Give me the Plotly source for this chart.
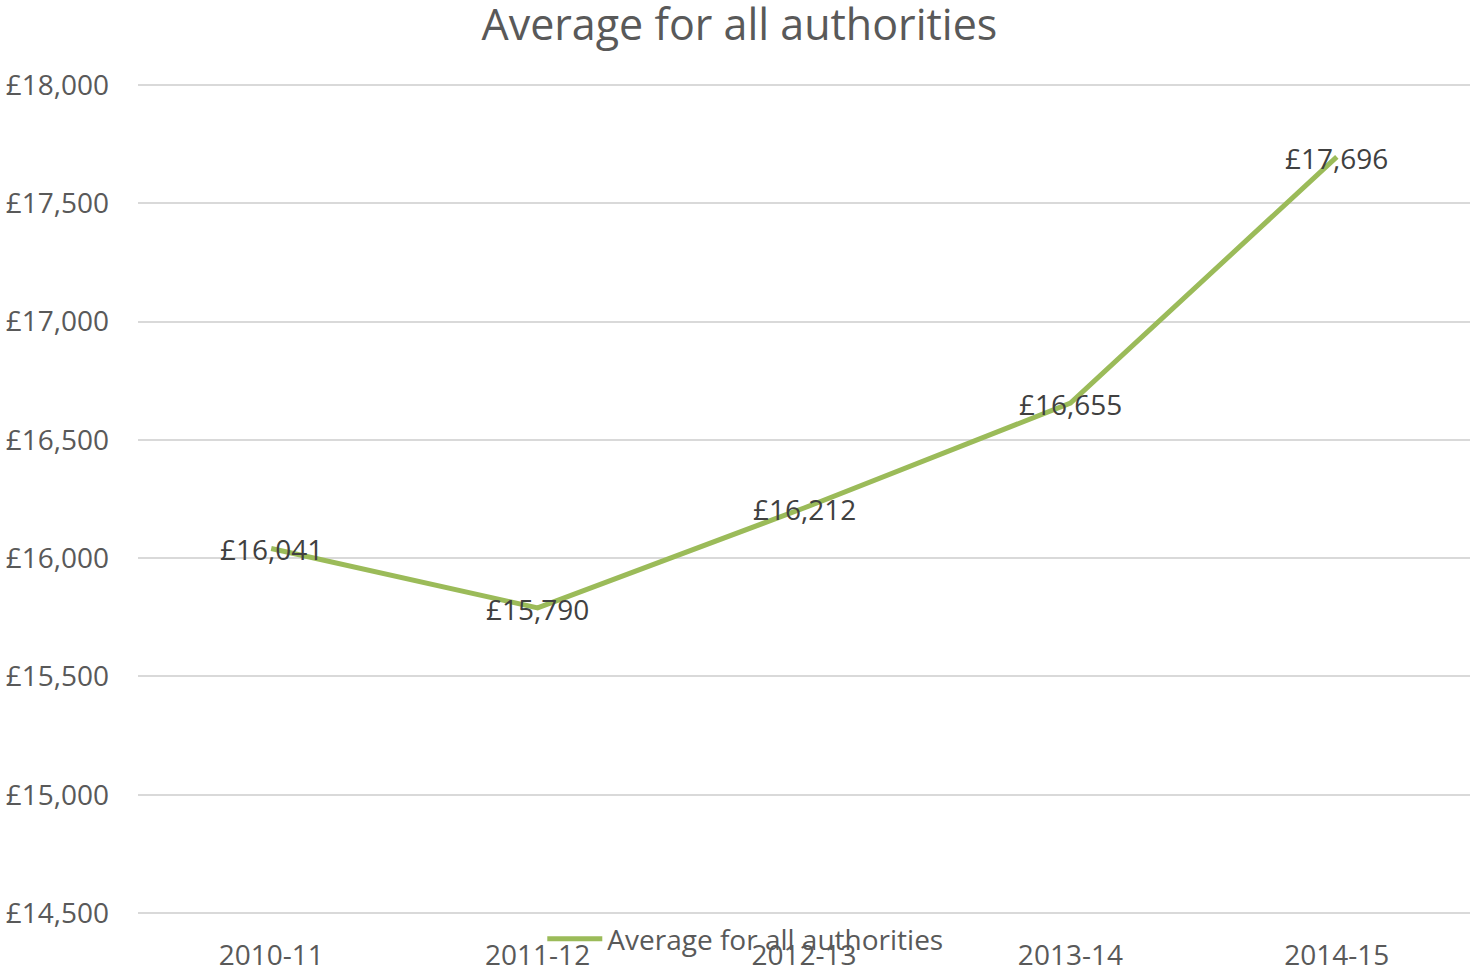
import plotly.graph_objects as go

categories = ["2010-11", "2011-12", "2012-13", "2013-14", "2014-15"]
values = [16041, 15790, 16212, 16655, 17696]
labels = ["£16,041", "£15,790", "£16,212", "£16,655", "£17,696"]
y_ticks = [14500, 15000, 15500, 16000, 16500, 17000, 17500, 18000]
y_tick_labels = ["£14,500", "£15,000", "£15,500", "£16,000", "£16,500", "£17,000", "£17,500", "£18,000"]

FONT = "Open Sans"

fig = go.Figure()
fig.add_trace(go.Scatter(
    x=categories, y=values, mode="lines",
    name="Average for all authorities",
    line=dict(color="#9BBB59", width=5),
))

for cat, val, lab in zip(categories, values, labels):
    fig.add_annotation(
        x=cat, y=val, text=lab, showarrow=False, xanchor="center", yanchor="middle",
        yshift=-1, font=dict(family=FONT, size=28, color="#404040"),
    )

fig.update_layout(
    width=1470, height=973,
    margin=dict(l=138, r=0, t=83, b=58, autoexpand=False),
    paper_bgcolor="white", plot_bgcolor="white",
    font=dict(family=FONT, color="#595959"),
    title=dict(text="Average for all authorities", x=0.503, xref="container", xanchor="center",
               y=1 - 25 / 973, yref="container", yanchor="middle",
               font=dict(family=FONT, size=43, color="#595959")),
    showlegend=True,
    legend=dict(orientation="h", x=0.507, xref="container", xanchor="center",
                y=1 - 939 / 973, yref="container", yanchor="middle",
                font=dict(family=FONT, size=28, color="#595959"),
                bgcolor="rgba(0,0,0,0)", itemwidth=55),
)
fig.update_xaxes(
    type="category", range=[-0.5, 4.5], showgrid=False, showline=False, automargin=False,
    ticks="outside", ticklen=0, ticklabelstandoff=15,
    tickfont=dict(family=FONT, size=28, color="#595959"),
)
fig.update_yaxes(
    range=[14492, 18008], tickvals=y_ticks, ticktext=y_tick_labels, automargin=False,
    showgrid=True, gridcolor="#D9D9D9", gridwidth=1.5, zeroline=False, showline=False,
    ticklabelstandoff=28,
    tickfont=dict(family=FONT, size=28, color="#595959"),
)

fig.write_html("out.html", config={"displayModeBar": False},
               post_script="document.body.style.margin='0';")
